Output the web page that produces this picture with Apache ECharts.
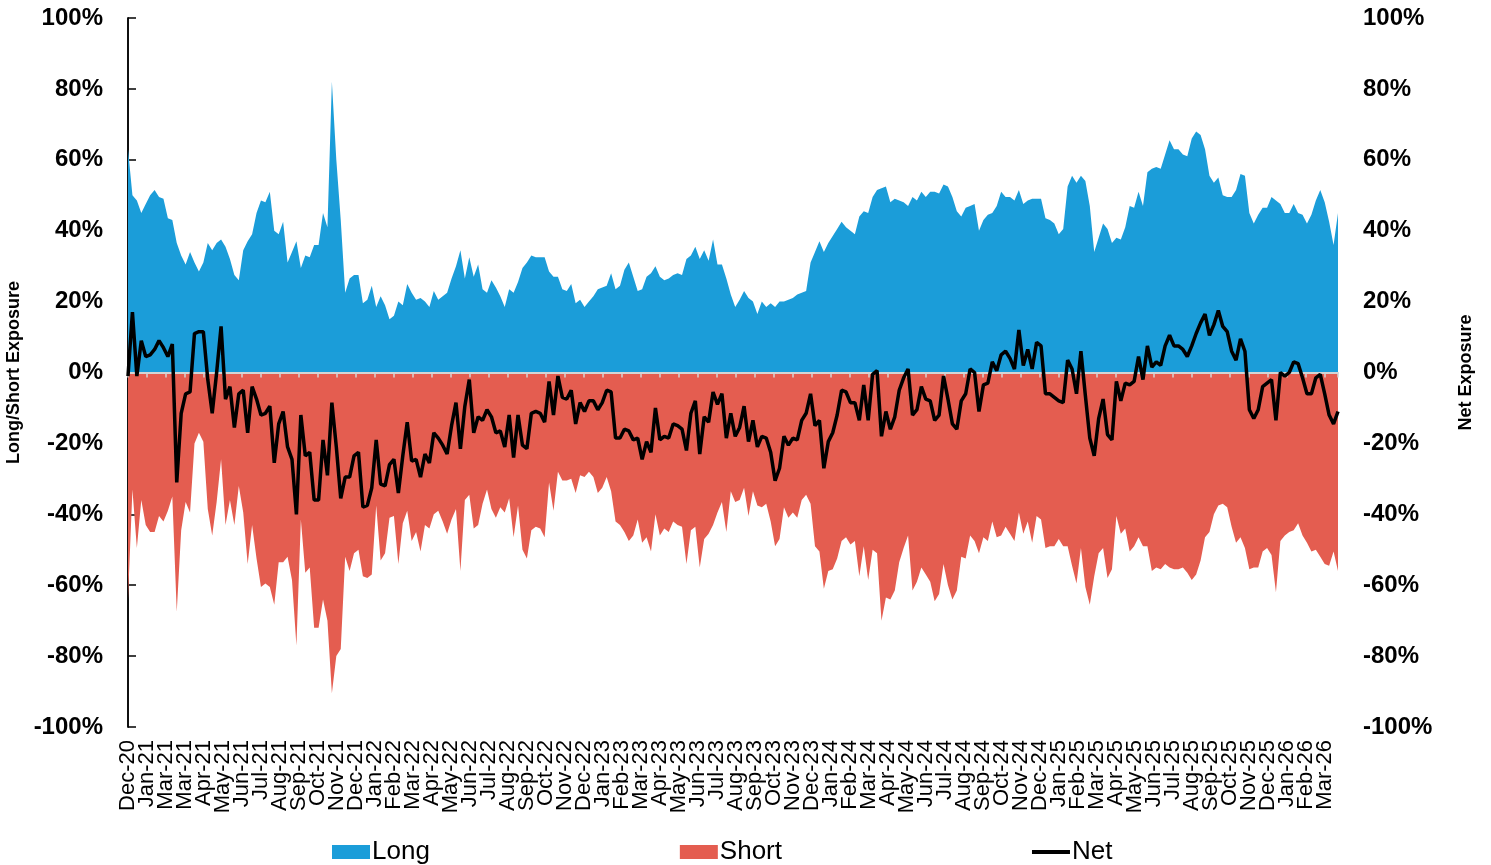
<!DOCTYPE html>
<html>
<head>
<meta charset="utf-8">
<title>Long/Short Exposure</title>
<script src="https://cdn.jsdelivr.net/npm/echarts@6/dist/echarts.min.js"></script>
<style>
  html, body { margin: 0; padding: 0; background: #fff; }
  #chart { width: 1491px; height: 865px; }
</style>
</head>
<body>
<div id="chart"></div>
<script>
'use strict';

// tick labels, one every 30 days starting at the first observation
var tickLabels = ['Dec-20','Jan-21','Mar-21','Mar-21','Apr-21','May-21','Jun-21','Jul-21','Aug-21','Sep-21','Oct-21','Nov-21','Dec-21',
  'Jan-22','Feb-22','Mar-22','Apr-22','May-22','Jun-22','Jul-22','Aug-22','Sep-22','Oct-22','Nov-22','Dec-22',
  'Jan-23','Feb-23','Mar-23','Apr-23','May-23','Jun-23','Jul-23','Aug-23','Sep-23','Oct-23','Nov-23','Dec-23',
  'Jan-24','Feb-24','Mar-24','Apr-24','May-24','Jun-24','Jul-24','Aug-24','Sep-24','Oct-24','Nov-24','Dec-24',
  'Jan-25','Feb-25','Mar-25','Apr-25','May-25','Jun-25','Jul-25','Aug-25','Sep-25','Oct-25','Nov-25','Dec-25',
  'Jan-26','Feb-26','Mar-26'];

var yTicks = [-100, -80, -60, -40, -20, 0, 20, 40, 60, 80, 100];

// weekly values (%)
var longVals = [
  63, 50, 48.5, 45, 47.5, 50, 51.5, 49.5, 49, 43.5,
  43, 36.5, 33, 30.5, 34, 31, 28.5, 31, 36.5, 34.5,
  36.5, 37.5, 35.5, 32, 27.5, 26, 34.5, 37, 39, 45,
  48.5, 48, 51, 40, 39, 42.5, 31, 34, 37, 29.5,
  33, 32.5, 36, 36, 45, 41, 82, 60, 43, 22.5,
  26.5, 27.5, 27.5, 19.5, 20.5, 24.5, 18.5, 21.5, 19, 15,
  16, 20, 19, 25, 22.5, 20.5, 21, 20, 18.5, 23,
  20.5, 21.5, 22.5, 26.5, 30, 34.5, 26.5, 32.5, 27, 30.5,
  23.5, 22.5, 26, 24, 21.5, 18.5, 23.5, 22.5, 25.5, 29.5,
  31, 33, 32.5, 32.5, 32.5, 28.5, 27, 27, 23.5, 23,
  25, 19.5, 20.5, 18.5, 20, 21.5, 23.5, 24, 24.5, 28,
  23.5, 24.5, 29, 31, 27, 23, 23.5, 27, 28, 30,
  27, 26, 26.5, 27.5, 28, 27.5, 32, 33, 35.5, 32,
  34.5, 31.5, 37.5, 30.5, 30.5, 26.5, 22, 18.5, 20.5, 23,
  21, 20, 16.5, 20, 18.5, 19.5, 18.5, 20, 20, 20.5,
  21, 22, 22.5, 23, 31, 34, 37, 34, 36.5, 38.5,
  40.5, 42.5, 41, 40, 39, 44, 45.5, 45, 49.5, 51.5,
  52, 52.5, 48, 49, 48.5, 48, 47, 49.5, 48.5, 51,
  49.5, 51, 51, 50.5, 53, 52.5, 49.5, 45.5, 44, 46.5,
  47, 47.5, 40, 43, 44.5, 45, 47, 51, 49.5, 49.5,
  48.5, 51.5, 47.5, 48.5, 49, 49, 49, 43.5, 43, 42,
  39, 40.5, 52.5, 55.5, 53.5, 55.5, 54, 47, 34, 38,
  42, 40.5, 36.5, 38, 37.5, 41, 47, 46.5, 51, 47,
  56.5, 57.5, 58, 57.5, 61.5, 65.5, 63, 63, 61.5, 61,
  66, 68, 67, 63, 55.5, 53.5, 55, 50, 49.5, 49.5,
  51.5, 56, 55.5, 45, 42, 44.5, 46.5, 46.5, 49.5, 48.5,
  47.5, 45, 45, 47.5, 45, 44.5, 42, 44.5, 48.5, 51.5,
  48, 42.5, 36, 45
];

var shortVals = [
  -64, -33, -49.5, -36, -43, -45, -45, -40.5, -42, -39,
  -35, -67.5, -44.5, -36.5, -39.5, -20, -17, -19.5, -38.5, -46,
  -36.5, -24.5, -43, -36, -43, -32, -39.5, -54, -43, -52.5,
  -60.5, -59.5, -60.5, -65.5, -53.5, -53.5, -52, -58.5, -77, -41.5,
  -56.5, -55, -72, -72, -64, -70, -90.5, -80, -78, -52,
  -56, -51, -50, -57.5, -58, -57, -37.5, -53, -51, -41,
  -40.5, -54, -42.5, -39, -47.5, -45, -50.5, -43, -44, -40,
  -39, -42, -45.5, -41.5, -38.5, -56, -36, -34.5, -44, -43,
  -37, -33, -38.5, -41, -38, -39.5, -35.5, -46.5, -37.5, -50,
  -52.5, -44.5, -43.5, -44, -46.5, -31, -39, -28, -30.5, -30.5,
  -30, -34, -29, -29.5, -28, -29.5, -34, -32.5, -29.5, -33.5,
  -42, -43, -45, -47.5, -46, -41.5, -48, -46.5, -50.5, -40,
  -46, -44, -45, -42, -43, -43.5, -54, -44.5, -43.5, -55,
  -47, -45.5, -43, -39.5, -36.5, -45, -33.5, -36.5, -36, -32.5,
  -40.5, -33.5, -37.5, -38, -37, -42, -49, -47, -38, -41,
  -39.5, -41, -36, -34.5, -37, -49, -50.5, -61, -56, -55.5,
  -52.5, -47.5, -46.5, -48.5, -47.5, -57.5, -49, -58.5, -50, -51,
  -70, -63.5, -64, -61.5, -53.5, -49.5, -46, -61.5, -59, -55,
  -57, -59, -64.5, -62.5, -54, -60, -64, -61.5, -52, -52.5,
  -46, -47.5, -51, -46.5, -47.5, -42, -46.5, -46, -43.5, -45.5,
  -47.5, -39.5, -45.5, -42, -48, -40.5, -41.5, -49.5, -49, -49,
  -47, -49, -49, -54.5, -59.5, -49.5, -60.5, -65.5, -57.5, -51,
  -49.5, -58, -55.5, -40.5, -45.5, -44, -50.5, -49, -46.5, -49,
  -49, -56, -55, -55.5, -54, -55, -55.5, -55.5, -55, -56.5,
  -58.5, -57, -53, -46.5, -45, -40, -37.5, -37, -38, -43.5,
  -48, -46.5, -49.5, -55.5, -55, -55, -50.5, -49.5, -51.5, -62,
  -47.5, -46, -45, -44.5, -42.5, -46, -48, -50.5, -50, -52,
  -54, -54.5, -50.5, -56
];

var netVals = [
  -1, 17, -1, 9, 4.5, 5, 6.5, 9, 7, 4.5,
  8, -31, -11.5, -6, -5.5, 11, 11.5, 11.5, -2, -11.5,
  0, 13, -7.5, -4, -15.5, -6, -5, -17, -4, -7.5,
  -12, -11.5, -9.5, -25.5, -14.5, -11, -21, -24.5, -40, -12,
  -23.5, -22.5, -36, -36, -19, -29, -8.5, -21, -35.5, -29.5,
  -29.5, -23.5, -22.5, -38, -37.5, -32.5, -19, -31.5, -32, -26,
  -24.5, -34, -23.5, -14, -25, -24.5, -29.5, -23, -25.5, -17,
  -18.5, -20.5, -23, -15, -8.5, -21.5, -9.5, -2, -17, -12.5,
  -13.5, -10.5, -12.5, -17, -16.5, -21, -12, -24, -12, -20.5,
  -21.5, -11.5, -11, -11.5, -14, -2.5, -12, -1, -7, -7.5,
  -5, -14.5, -8.5, -11, -8, -8, -10.5, -8.5, -5, -5.5,
  -18.5, -18.5, -16, -16.5, -19, -18.5, -24.5, -19.5, -22.5, -10,
  -19, -18, -18.5, -14.5, -15, -16, -22, -11.5, -8, -23,
  -12.5, -14, -5.5, -9, -6, -18.5, -11.5, -18, -15.5, -9.5,
  -19.5, -13.5, -21, -18, -18.5, -22.5, -30.5, -27, -18, -20.5,
  -18.5, -19, -13.5, -11.5, -6, -15, -13.5, -27, -19.5, -17,
  -12, -5, -5.5, -8.5, -8.5, -13.5, -3.5, -13.5, -0.5, 0.5,
  -18, -11, -16, -12.5, -5, -1.5, 1, -12, -10.5, -4,
  -7.5, -8, -13.5, -12, -1, -7.5, -14.5, -16, -8, -6,
  1, 0, -11, -3.5, -3, 3, 0.5, 5, 6, 4,
  1, 12, 2, 6.5, 1, 8.5, 7.5, -6, -6, -7,
  -8, -8.5, 3.5, 1, -6, 6, -6.5, -18.5, -23.5, -13,
  -7.5, -17.5, -19, -2.5, -8, -3, -3.5, -2.5, 4.5, -2,
  7.5, 1.5, 3, 2, 7.5, 10.5, 7.5, 7.5, 6.5, 4.5,
  7.5, 11, 14, 16.5, 10.5, 13.5, 17.5, 13, 11.5, 6,
  3.5, 9.5, 6, -10.5, -13, -10.5, -4, -3, -2, -13.5,
  0, -1, 0, 3, 2.5, -1.5, -6, -6, -1.5, -0.5,
  -6, -12, -14.5, -11
];

var DAYS_PER_WEEK = 7;
var TICK_DAYS = 30;
var lastDay = (longVals.length - 1) * DAYS_PER_WEEK;

// x = days since first observation
function toPoints(vals) {
  return vals.map(function (v, i) { return [i * DAYS_PER_WEEK, v]; });
}

function tickIndex(v) {
  var k = v / TICK_DAYS;
  var r = Math.round(k);
  return Math.abs(k - r) < 1e-6 ? r : -1;
}

var FONT = 'Liberation Sans, Arial, Helvetica, sans-serif';
var BLUE = '#1b9dd9';
var RED = '#e45d50';

var chart = echarts.init(document.getElementById('chart'), null, { renderer: 'canvas' });

var yAxisBase = {
  type: 'value',
  min: yTicks[0],
  max: yTicks[yTicks.length - 1],
  interval: 20,
  splitLine: { show: false },
  axisLine: { show: true, lineStyle: { color: '#000', width: 1.5 } },
  axisLabel: {
    margin: 25,
    color: '#000',
    fontFamily: FONT,
    fontWeight: 'bold',
    fontSize: 24,
    formatter: '{value}%'
  },
  nameLocation: 'middle',
  nameRotate: 90,
  nameTextStyle: { fontFamily: FONT, fontWeight: 'bold', fontSize: 18, color: '#000' }
};

// bottom date labels; the first one sits on its own axis so it is not dropped for overlapping
function labelAxis(onlyFirst) {
  return {
    type: 'value',
    min: 0,
    max: lastDay,
    interval: TICK_DAYS,
    position: 'bottom',
    axisLine: { show: false, onZero: false },
    axisTick: { show: false },
    splitLine: { show: false },
    axisLabel: {
      rotate: 90,
      margin: 13,
      color: '#000',
      fontFamily: FONT,
      fontSize: 22,
      showMinLabel: onlyFirst,
      showMaxLabel: false,
      hideOverlap: false,
      formatter: function (v) {
        var k = tickIndex(v);
        if (onlyFirst) return k === 0 ? tickLabels[0] : '';
        return k > 0 && tickLabels[k] ? tickLabels[k] : '';
      }
    }
  };
}

var option = {
  animation: false,
  backgroundColor: '#fff',
  grid: { left: 128, right: 153, top: 18, bottom: 138, containLabel: false, outerBoundsMode: 'none' },
  legend: {
    left: 327,
    top: 834,
    itemWidth: 38,
    itemHeight: 14,
    itemGap: 250,
    textStyle: { fontFamily: FONT, fontSize: 26, color: '#000', padding: [0, 0, 0, -3] },
    data: [
      { name: 'Long', icon: 'rect' },
      { name: 'Short', icon: 'rect' },
      { name: 'Net', icon: 'path://M0 0H40V4H0Z' }
    ]
  },
  xAxis: [
    labelAxis(false),
    {
      // zero line with small ticks, drawn over the areas
      type: 'value',
      min: 0,
      max: lastDay,
      interval: TICK_DAYS,
      position: 'bottom',
      z: 10,
      axisLine: { show: true, onZero: true, lineStyle: { color: '#d4d4d4', width: 2 } },
      axisTick: { show: true, length: 5, lineStyle: { color: '#d4d4d4', width: 1.5 } },
      axisLabel: { show: false },
      splitLine: { show: false }
    },
    labelAxis(true)
  ],
  yAxis: [
    echarts.util.merge({
      position: 'left',
      name: 'Long/Short Exposure',
      nameGap: 104,
      axisTick: { show: false }
    }, yAxisBase),
    echarts.util.merge({
      position: 'right',
      name: 'Net Exposure',
      nameGap: 119,
      axisTick: { show: true, length: 8, lineStyle: { color: '#000', width: 1.5 } }
    }, yAxisBase)
  ],
  series: [
    {
      name: 'Long',
      type: 'line',
      xAxisIndex: 0,
      yAxisIndex: 0,
      data: toPoints(longVals),
      symbol: 'none',
      color: BLUE,
      itemStyle: { color: BLUE },
      lineStyle: { width: 0 },
      areaStyle: { color: BLUE, opacity: 1, origin: 'auto' },
      z: 2
    },
    {
      name: 'Short',
      type: 'line',
      xAxisIndex: 0,
      yAxisIndex: 0,
      data: toPoints(shortVals),
      symbol: 'none',
      color: RED,
      itemStyle: { color: RED },
      lineStyle: { width: 0 },
      areaStyle: { color: RED, opacity: 1, origin: 'auto' },
      z: 2
    },
    {
      name: 'Net',
      type: 'line',
      xAxisIndex: 0,
      yAxisIndex: 1,
      data: toPoints(netVals),
      symbol: 'none',
      color: '#000',
      itemStyle: { color: '#000' },
      lineStyle: { color: '#000', width: 3.5 },
      z: 12
    }
  ]
};

chart.setOption(option);
</script>
</body>
</html>
